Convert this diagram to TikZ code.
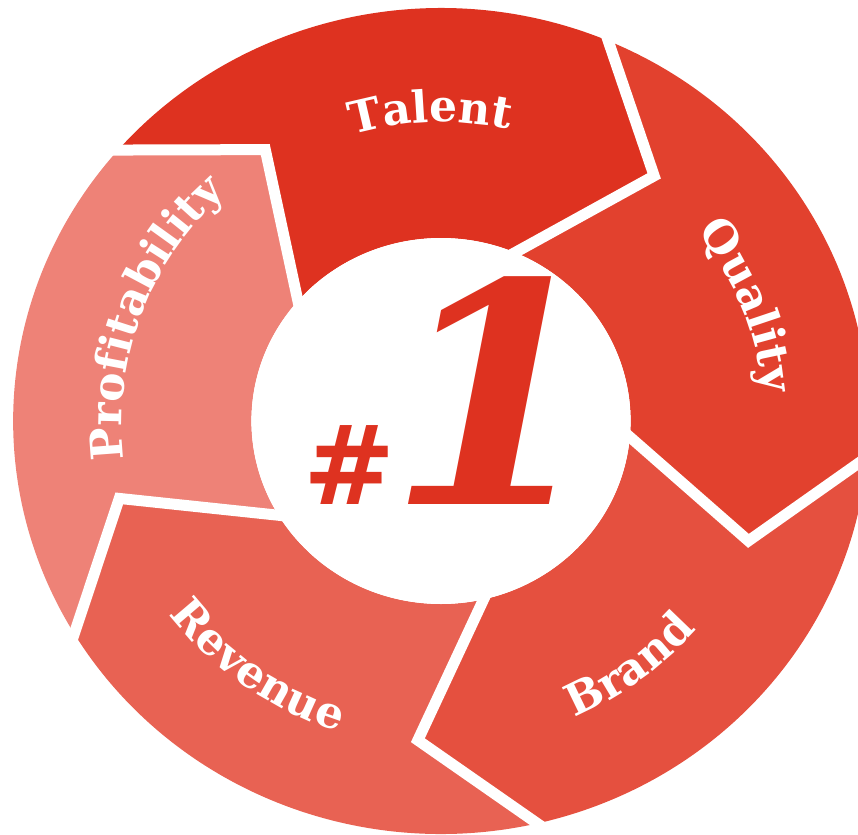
\documentclass[tikz,border=0pt]{standalone}
\usepackage{fontspec}
\setmainfont{DejaVu Serif}
\usetikzlibrary{calc,decorations.text}
\definecolor{talentred}{HTML}{DE3220}
\definecolor{qualityred}{HTML}{E2412E}
\definecolor{brandred}{HTML}{E5503F}
\definecolor{revenuered}{HTML}{E86253}
\definecolor{profitred}{HTML}{EE8277}
\newcommand\ringlabelfont{\bfseries\fontsize{44}{44}\selectfont}
\tikzset{
  gapline/.style={draw=white, line width=11},
  ringlabel/.style={decorate, decoration={text along path, text align=center,
      text color=white, text={|\ringlabelfont|#1}}},
  centremark/.style={text=talentred, anchor=base, inner sep=0},
}
\begin{document}
\begin{tikzpicture}[x=1pt,y=-1pt]
\useasboundingbox (0,0) rectangle (858,834);
\begin{scope}[shift={(441,421)}, xscale=1.036]
  % five chevron-shaped parts of the ring, clockwise
  \foreach \a/\c in {221/talentred,293/qualityred,5/brandred,77/revenuered,149/profitred}{
    \pgfmathsetmacro\b{\a+72}
    \fill[\c] (\a:413) arc[start angle=\a, end angle=\b, radius=413]
       -- ({\b+17}:320) -- (\b:183) arc[start angle=\b, end angle=\a, radius=183]
       -- ({\a+17}:320) -- cycle;
  }
  % white gaps between the parts
  \foreach \a in {221,293,5,77,149}{
    \coordinate (v) at ({\a+17}:320);
    \draw[gapline] ($(v)!1.2!(\a:413)$) -- (v) -- ($(v)!1.3!(\a:183)$);
  }
  % white hub
  \fill[white] (0,0) circle[radius=183];
  % labels along the ring
  \path[ringlabel=Talent] (228:299) arc[start angle=228, end angle=308, radius=299];
  \path[ringlabel=Quality] (299:312) arc[start angle=299, end angle=379, radius=312];
  \path[ringlabel=Brand] (93:323) arc[start angle=93, end angle=13, radius=323];
  \path[ringlabel=Revenue] (166:326) arc[start angle=166, end angle=86, radius=326];
  \path[ringlabel=Profitability] (150:308) arc[start angle=150, end angle=250, radius=308];
\end{scope}
% centre mark
\node[centremark, font=\bfseries\itshape\fontsize{110}{110}\selectfont] (hash) at (350,504) {\#};
\node[centremark, font=\bfseries\itshape\fontsize{307}{307}\selectfont] (one) at (495,504) {1};
\end{tikzpicture}
\end{document}
